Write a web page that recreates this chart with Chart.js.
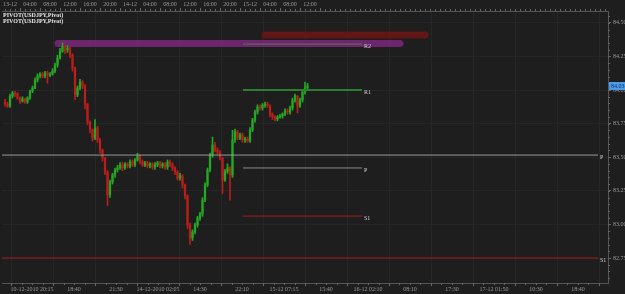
<!DOCTYPE html>
<html>
<head>
<meta charset="utf-8">
<style>
  html, body { margin: 0; padding: 0; background: #1e1e1e; }
  #wrap { width: 625px; height: 294px; }
</style>
<script src="https://cdn.jsdelivr.net/npm/chart.js@4.4.1/dist/chart.umd.min.js"></script>
</head>
<body>
<div id="wrap"><canvas id="myChart" width="625" height="294"></canvas></div>
<script>
// USD/JPY 30-minute candles, hours counted from 13-12 00:00
const candleStart = -1;
const candleStep = 0.5;

const opens = [83.911,83.896,83.881,83.955,83.978,83.970,83.940,83.918,83.933,83.911,
  83.940,83.993,84.015,84.074,84.104,84.119,84.104,84.127,84.112,84.119,
  84.141,84.186,84.238,84.290,84.320,84.298,84.312,84.260,84.164,83.963,
  84.015,84.060,84.030,83.896,83.762,83.702,83.643,83.717,83.628,83.554,
  83.494,83.390,83.219,83.316,83.368,83.405,83.420,83.442,83.420,83.449,
  83.435,83.464,83.442,83.479,83.509,83.464,83.442,83.457,83.435,83.449,
  83.427,83.442,83.457,83.435,83.449,83.427,83.464,83.449,83.420,83.390,
  83.345,83.360,83.293,83.211,82.996,82.899,82.944,82.996,83.048,83.077,
  83.182,83.293,83.405,83.516,83.591,83.554,83.539,83.494,83.330,83.390,
  83.420,83.368,83.628,83.688,83.643,83.665,83.628,83.635,83.621,83.702,
  83.777,83.836,83.874,83.866,83.888,83.896,83.881,83.821,83.799,83.784,
  83.799,83.807,83.821,83.844,83.836,83.866,83.926,83.955,83.881,83.926,
  83.985,84.015];
const highs = [83.93,83.91,83.97,83.99,83.99,83.98,83.95,83.95,83.94,83.95,
  84.00,84.03,84.09,84.12,84.13,84.13,84.14,84.14,84.13,84.16,
  84.20,84.26,84.31,84.35,84.33,84.33,84.32,84.27,84.17,84.03,
  84.08,84.07,84.04,83.90,83.77,83.71,83.78,83.73,83.64,83.56,
  83.50,83.40,83.33,83.38,83.42,83.44,83.46,83.46,83.46,83.46,
  83.48,83.48,83.49,83.53,83.52,83.48,83.47,83.47,83.46,83.46,
  83.46,83.47,83.47,83.46,83.46,83.48,83.48,83.46,83.43,83.40,
  83.38,83.37,83.30,83.22,83.01,82.96,83.01,83.06,83.09,83.20,
  83.31,83.42,83.53,83.65,83.61,83.57,83.55,83.50,83.41,83.45,
  83.43,83.70,83.71,83.70,83.68,83.68,83.65,83.65,83.72,83.79,
  83.85,83.89,83.89,83.90,83.91,83.91,83.89,83.83,83.81,83.81,
  83.82,83.83,83.86,83.86,83.88,83.94,83.97,83.96,83.94,84.00,
  84.06,84.05];
const lows = [83.88,83.87,83.87,83.94,83.95,83.93,83.90,83.91,83.90,83.90,
  83.93,83.98,84.01,84.06,84.09,84.09,84.09,84.05,84.10,84.11,
  84.13,84.17,84.23,84.28,84.27,84.28,84.24,84.14,83.93,83.95,
  84.00,84.01,83.86,83.74,83.68,83.62,83.63,83.61,83.53,83.47,
  83.37,83.14,83.20,83.30,83.35,83.39,83.41,83.40,83.41,83.42,
  83.42,83.43,83.43,83.47,83.45,83.43,83.43,83.42,83.42,83.41,
  83.41,83.43,83.42,83.42,83.41,83.41,83.43,83.40,83.37,83.33,
  83.33,83.27,83.19,82.97,82.85,82.88,82.93,82.98,83.03,83.06,
  83.17,83.28,83.39,83.50,83.54,83.52,83.48,83.23,83.32,83.38,
  83.18,83.35,83.61,83.63,83.63,83.61,83.61,83.61,83.61,83.69,
  83.76,83.82,83.85,83.85,83.87,83.87,83.80,83.78,83.77,83.77,
  83.79,83.79,83.81,83.82,83.82,83.85,83.91,83.83,83.87,83.91,
  83.97,84.00];
const closes = [83.896,83.881,83.955,83.978,83.970,83.940,83.918,83.933,83.911,83.940,
  83.993,84.015,84.074,84.104,84.119,84.104,84.127,84.112,84.119,84.141,
  84.186,84.238,84.290,84.320,84.298,84.312,84.260,84.164,83.963,84.015,
  84.060,84.030,83.896,83.762,83.702,83.643,83.717,83.628,83.554,83.494,
  83.390,83.219,83.316,83.368,83.405,83.420,83.442,83.420,83.449,83.435,
  83.464,83.442,83.479,83.509,83.464,83.442,83.457,83.435,83.449,83.427,
  83.442,83.457,83.435,83.449,83.427,83.464,83.449,83.420,83.390,83.345,
  83.360,83.293,83.211,82.996,82.899,82.944,82.996,83.048,83.077,83.182,
  83.293,83.405,83.516,83.591,83.554,83.539,83.494,83.330,83.390,83.420,
  83.368,83.628,83.688,83.643,83.665,83.628,83.635,83.621,83.702,83.777,
  83.836,83.874,83.866,83.888,83.896,83.881,83.821,83.799,83.784,83.799,
  83.807,83.821,83.844,83.836,83.866,83.926,83.955,83.881,83.926,83.985,
  84.015,84.030];

const topTickHours = [0,4,8,12,16,20,24,28,32,36,40,44,48,52,56,60];
const topTickLabels = ["13-12","04:00","08:00","12:00","16:00","20:00","14-12","04:00",
  "08:00","12:00","16:00","20:00","15-12","04:00","08:00","12:00"];
const bottomTickHours = [4.4,12.8,21.2,29.6,38,46.4,54.8,63.2,71.6,80,88.4,96.8,105.2,113.6];
const bottomTickLabels = ["10-12-2010 20:15","18:40","21:30","14-12-2010 02:05","14:30","22:10",
  "15-12 07:15","15:40","16-12 02:10","08:10","17:30","17-12 01:50","10:30","18:40"];
const priceTicks = [82.75,83.00,83.25,83.50,83.75,84.00,84.25,84.50];

// pivot levels
const shortPivotNames = ["R2","R1","P","S1"];
const shortPivotValues = [84.342,84.000,83.420,83.062];
const shortPivotHours = [46.6,70.4];
const longPivotNames = ["P","S1"];
const longPivotValues = [83.516,82.750];
const longPivotHours = [-1.6,117.6];
// highlighted zones
const zoneValues = [84.346,84.409];
const zoneHours = [[9.6,78],[51,83]];

const legendLines = ["PIVOT(USDJPY,Pivot)","PIVOT(USDJPY,Pivot)"];

const xMin = -1.6, xMax = 119.6;
const yMin = 82.564, yMax = 84.588;

const times = closes.map((c, i) => candleStart + i * candleStep);
const upColor = "#22a822";
const downColor = "#b81e1a";
const candleColors = closes.map((c, i) => (c >= opens[i] ? upColor : downColor));

const shortColors = ["#557a55","#2f7d2f","#8a8a8a","#a81c1c"];
const shortWidths = [1,2,1,1];
const longColors = ["#9a9a9a","#a81818"];
const zoneColors = ["rgba(140,42,140,0.72)","rgba(110,22,22,0.85)"];

const lineSet = (from, to, v, color, width, order) => ({
  type: "line",
  data: [{ x: from, y: v }, { x: to, y: v }],
  borderColor: color,
  borderWidth: width,
  pointRadius: 0,
  borderCapStyle: width > 3 ? "round" : "butt",
  order: order,
});

const datasets = [];
zoneValues.forEach((v, i) => datasets.push(lineSet(zoneHours[i][0], zoneHours[i][1], v, zoneColors[i], 7, 10)));
datasets.push({
  type: "bar",
  data: times.map((t, i) => ({ x: t, y: [lows[i], highs[i]] })),
  backgroundColor: candleColors,
  barThickness: 1,
  grouped: false,
  order: 3,
});
datasets.push({
  type: "bar",
  data: times.map((t, i) => ({ x: t, y: [opens[i], closes[i]] })),
  backgroundColor: candleColors,
  barThickness: 1.6,
  minBarLength: 1,
  grouped: false,
  order: 2,
});
shortPivotValues.forEach((v, i) => datasets.push(lineSet(shortPivotHours[0], shortPivotHours[1], v, shortColors[i], shortWidths[i], 1)));
longPivotValues.forEach((v, i) => datasets.push(lineSet(longPivotHours[0], longPivotHours[1], v, longColors[i], 1, 1)));

const axisFont = { family: "Liberation Serif", size: 6 };
const gridColor = "#262626";

const decor = {
  id: "decor",
  beforeDraw(chart) {
    const c = chart.ctx;
    c.save();
    c.fillStyle = "#1e1e1e";
    c.fillRect(0, 0, chart.width, chart.height);
    c.restore();
  },
  afterDraw(chart) {
    const c = chart.ctx;
    const x = chart.scales.x, x2 = chart.scales.x2, y = chart.scales.y;
    const area = chart.chartArea;
    c.save();
    c.strokeStyle = "#666";
    c.lineWidth = 1;
    c.beginPath();
    // minor ticks
    for (let h = Math.ceil(xMin); h <= xMax; h += 1) {
      const px = Math.round(x2.getPixelForValue(h)) + 0.5;
      c.moveTo(px, area.top); c.lineTo(px, area.top - 2);
    }
    for (let h = bottomTickHours[0] - 2.1 * 2; h <= xMax; h += 2.1) {
      const px = Math.round(x.getPixelForValue(h)) + 0.5;
      c.moveTo(px, area.bottom); c.lineTo(px, area.bottom + 2);
    }
    for (let v = 82.6; v <= yMax; v += 0.05) {
      const py = Math.round(y.getPixelForValue(v)) + 0.5;
      c.moveTo(area.right, py); c.lineTo(area.right + 2, py);
    }
    c.stroke();

    // legend text
    c.fillStyle = "#e6e6e6";
    c.font = "bold 6px 'Liberation Serif'";
    c.textBaseline = "middle";
    legendLines.forEach((t, i) => c.fillText(t, 3, 15 + i * 6));

    // pivot names
    c.font = "6px 'Liberation Serif'";
    c.fillStyle = "#d0d0d0";
    shortPivotNames.forEach((n, i) => {
      c.fillText(n, x.getPixelForValue(shortPivotHours[1]) + 2, y.getPixelForValue(shortPivotValues[i]) + 2);
    });
    longPivotNames.forEach((n, i) => {
      c.fillText(n, x.getPixelForValue(longPivotHours[1]) + 2, y.getPixelForValue(longPivotValues[i]) + 2);
    });

    // last price box
    const last = closes[closes.length - 1];
    const py = y.getPixelForValue(last);
    c.fillStyle = "#4a9de8";
    c.fillRect(area.right + 1, py - 4, chart.width - area.right - 1, 8);
    c.fillStyle = "#0d2e5e";
    c.textAlign = "left";
    c.fillText(last.toFixed(2), area.right + 3, py);
    c.restore();
  },
};

const chart = new Chart(document.getElementById("myChart"), {
  type: "bar",
  data: { datasets: datasets },
  options: {
    responsive: false,
    animation: false,
    events: [],
    layout: { padding: { left: 2, right: 0, top: 0, bottom: 0 } },
    plugins: { legend: { display: false }, tooltip: { enabled: false } },
    scales: {
      x: {
        type: "linear",
        position: "bottom",
        min: xMin,
        max: xMax,
        offset: false,
        afterBuildTicks: (s) => { s.ticks = bottomTickHours.map((v) => ({ value: v })); },
        afterFit: (s) => { s.height = 11; s.paddingLeft = 0; s.paddingRight = 0; },
        ticks: {
          autoSkip: false,
          maxRotation: 0,
          padding: 0,
          color: "#9a9a9a",
          font: axisFont,
          callback: (v, i) => bottomTickLabels[i],
        },
        grid: { color: gridColor, tickLength: 3, tickColor: "#666" },
        border: { color: "#555" },
      },
      x2: {
        type: "linear",
        position: "top",
        min: xMin,
        max: xMax,
        offset: false,
        afterBuildTicks: (s) => { s.ticks = topTickHours.map((v) => ({ value: v })); },
        afterFit: (s) => { s.height = 11; s.paddingLeft = 0; s.paddingRight = 0; },
        ticks: {
          autoSkip: false,
          maxRotation: 0,
          padding: 0,
          color: "#9a9a9a",
          font: axisFont,
          callback: (v, i) => topTickLabels[i],
        },
        grid: { drawOnChartArea: false, tickLength: 3, tickColor: "#666" },
        border: { color: "#555" },
      },
      y: {
        type: "linear",
        position: "right",
        min: yMin,
        max: yMax,
        afterBuildTicks: (s) => { s.ticks = priceTicks.map((v) => ({ value: v })); },
        afterFit: (s) => { s.width = 17; },
        ticks: {
          padding: 2,
          color: "#9a9a9a",
          font: axisFont,
          callback: (v) => v.toFixed(2),
        },
        grid: { color: gridColor, tickLength: 3, tickColor: "#666" },
        border: { color: "#555" },
      },
    },
  },
  plugins: [decor],
});
</script>
</body>
</html>
